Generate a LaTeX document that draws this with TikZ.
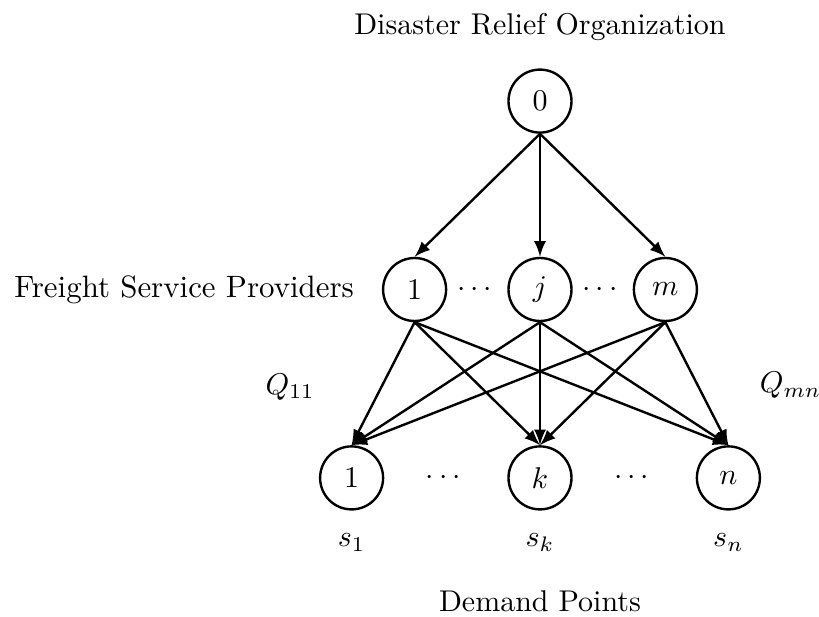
\documentclass[tikz,border=0pt]{standalone}
\usepackage{amsmath}
\usepackage{tikz}
\usetikzlibrary{positioning}

\begin{document}
\begin{tikzpicture}[thick, >=latex, node distance=41pt,
	hub/.style = {shape=circle, draw, minimum size=21pt, inner sep=0pt}]
	\useasboundingbox (-180pt,33.7pt) rectangle (93pt,-171.7pt);
	\node[hub] (org) at (0,0) {$0$};
	\node[above=5.5pt of org] (orgtxt) {Disaster Relief Organization};
	\node[hub, below=of org] (fj) {$j$};
	\node[hub, left=20pt of fj] (f1) {$1$};
	\node[hub, right=20pt of fj] (fm) {$m$};
	\node[left=5.5pt of f1, scale=1.03] (ftxt) {Freight Service Providers};
	\path (f1) -- node (fdotsa) {$\cdots$} (fj);
	\path (fj) -- node (fdotsb) {$\cdots$} (fm);
	\node[hub, below=of fj] (dk) {$k$};
	\node[hub, left=of dk] (d1) {$1$};
	\node[hub, right=of dk] (dn) {$n$};
	\path (d1) -- node (ddotsa) {$\cdots$} (dk);
	\path (dk) -- node (ddotsb) {$\cdots$} (dn);
	\node[below=4pt of d1] (s1) {$s_1$};
	\node[below=4pt of dk] (sk) {$s_k$};
	\node[below=4pt of dn] (sn) {$s_n$};
	\node[below=23pt of dk] (dtxt) {Demand Points};
	\node[xshift=-41.5pt, yshift=-32.5pt] (q11) at (f1) {$Q_{11}$};
	\node[xshift=41.7pt, yshift=-32pt] (qmn) at (fm) {$Q_{mn}$};
	\foreach \f in {f1,fj,fm}
		\draw[->] (org.south) -- (\f.north);
	\foreach \f in {f1,fj,fm}
		\foreach \d in {d1,dk,dn}
			\draw[->] (\f.south) -- (\d.north);
\end{tikzpicture}
\end{document}
